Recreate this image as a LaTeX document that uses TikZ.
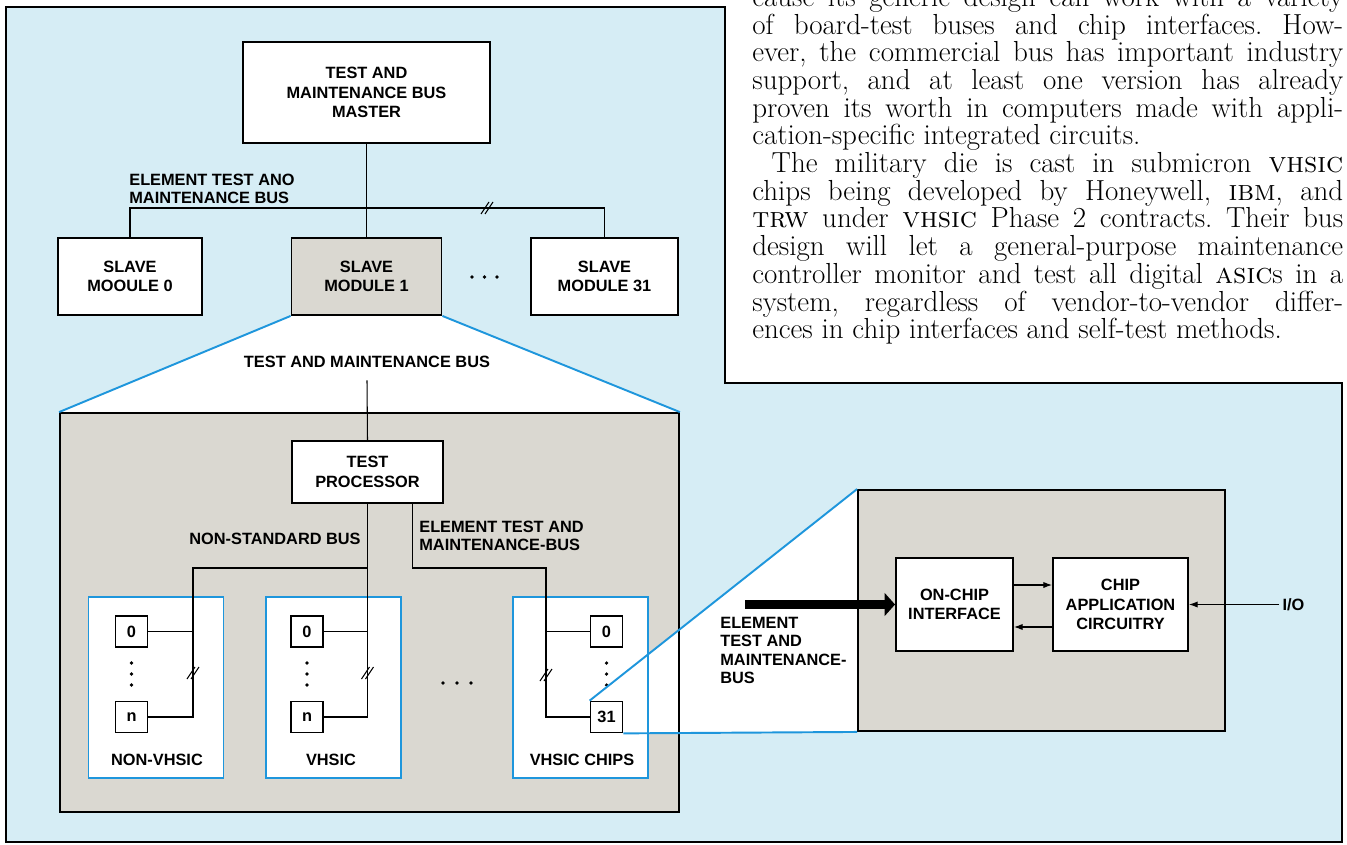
\documentclass[tikz,border=0pt]{standalone}
\usepackage{fontspec}
\newfontfamily\lblfont{Liberation Sans}
\usepackage{xcolor}
\usepackage{tikz}
\usetikzlibrary{arrows.meta,positioning,backgrounds}

\definecolor{paleblue}{HTML}{D6EDF5}
\definecolor{boardgray}{HTML}{DAD8D1}
\definecolor{zoomblue}{HTML}{1E96DC}

\begin{document}
\begin{tikzpicture}[
  x=0.02cm,y=-0.02cm,
  lbl/.style={font=\lblfont\bfseries\fontsize{9.3}{10.3}\selectfont,align=left,inner sep=0pt},
  box/.style={draw,line width=1.1pt,fill=white,align=center,font=\lblfont\bfseries\fontsize{9.3}{11}\selectfont},
  chip/.style={draw,line width=1pt,fill=white,minimum width=0.64cm,minimum height=0.62cm,inner sep=0pt,font=\lblfont\bfseries\fontsize{9.3}{11}\selectfont},
  group/.style={draw=zoomblue,line width=1.1pt,fill=white,minimum width=2.7cm,minimum height=3.62cm},
  board/.style={draw,line width=1.1pt},
  bus/.style={line width=0.6pt},
  zoom/.style={zoomblue,line width=1.1pt},
  tip/.style={-{Latex[length=5pt,width=3.6pt]}},
  brk/.pic={\draw[line width=0.6pt] (-6,6) -- (2,-6) (-2,6) -- (6,-6);}
]
\useasboundingbox (0,0) rectangle (1347,845);

% frame round the figure
\draw[line width=1.4pt] (6,7) -- (725,7) -- (725,383) -- (1342,383) -- (1342,842) -- (6,842) -- cycle;

% column text
\node[anchor=north west,inner sep=0pt,text width=11.82cm,align=justify,font=\fontsize{16.5}{15.76}\selectfont] (column) at (752,-14) {%
\parindent=0pt\parskip=0pt\tolerance=9999\hyphenpenalty=10000\exhyphenpenalty=10000\frenchspacing
cause its generic design can work with a variety\linebreak
of board-test buses and chip interfaces. How-\linebreak
ever, the commercial bus has important industry\linebreak
support, and at least one version has already\linebreak
proven its worth in computers made with appli-\linebreak
cation-specific integrated circuits.\par
\hspace*{11pt}The military die is cast in submicron \textsc{vhsic}\linebreak
chips being developed by Honeywell, \textsc{ibm}, and\linebreak
\textsc{trw} under \textsc{vhsic} Phase 2 contracts. Their bus\linebreak
design will let a general-purpose maintenance\linebreak
controller monitor and test all digital \textsc{asic}s in a\linebreak
system, regardless of vendor-to-vendor differ-\linebreak
ences in chip interfaces and self-test methods.};

% system level
\node[box,minimum width=4.94cm,minimum height=2.02cm] (master) at (366.5,92.5) {TEST AND\\MAINTENANCE BUS\\MASTER};
\node[box,minimum width=2.88cm,minimum height=1.54cm] (slave0) at (130,276.5) {SLAVE\\MOOULE 0};
\node[box,fill=boardgray,minimum width=3cm,minimum height=1.54cm] (slave1) at (366.5,276.5) {SLAVE\\MODULE 1};
\node[box,minimum width=2.94cm,minimum height=1.54cm] (slave31) at (604.5,276.5) {SLAVE\\MODULE 31};
\node[lbl,anchor=west] (etmlbl) at (129,188.5) {ELEMENT TEST ANO\\MAINTENANCE BUS};

\coordinate (etmbus) at (366.5,208);
\draw[bus] (master) -- (slave1);
\draw[bus] (slave0.north) |- (etmbus) -| (slave31.north);
\pic at (487,208) {brk};
\foreach \dx in {472,484.5,497} \fill (\dx,277) circle[radius=1.1pt];

% slave module 1
\node[board,minimum width=12.38cm,minimum height=7.98cm] (board) at (369.5,612.5) {};
\draw[zoom] (slave1.south west) -- (board.north west);
\draw[zoom] (slave1.south east) -- (board.north east);
\node[lbl] (tmlbl) at (367,362) {TEST AND MAINTENANCE BUS};
\node[box,minimum width=3.02cm,minimum height=1.24cm] (tproc) at (367.5,472) {TEST\\PROCESSOR};
\draw[bus] ([yshift=-7pt]tmlbl.south) -- (tproc.north);

\node[group] (nvbox) at (156,687.5) {};
\node[group] (vbox) at (333.5,687.5) {};
\node[group] (vcbox) at (580.5,687.5) {};
\node[lbl] (nvname) at (157,760) {NON-VHSIC};
\node[lbl] (vname) at (331,760) {VHSIC};
\node[lbl] (vcname) at (582,760) {VHSIC CHIPS};

\node[chip] (nv0) at (131.5,631.5) {0};
\node[chip] (nvn) at (131.5,717) {n};
\node[chip] (v0) at (307,631.5) {0};
\node[chip] (vn) at (307,717) {n};
\node[chip] (vc0) at (606.5,631.5) {0};
\node[chip] (vc31) at (606.5,717) {31};
\foreach \dx in {131.5,307,606.5}
  \foreach \dy in {663,674,685} \fill (\dx,\dy) circle[radius=1pt];
\foreach \dx in {443,457,471} \fill (\dx,683) circle[radius=1.1pt];

\coordinate (nsbus) at (193,568);
\coordinate (etm) at ([xshift=0.9cm]tproc.south);
\coordinate (etbus) at (546,568);
\draw[bus] (tproc.south) |- (vn.east);
\draw[bus] (v0.east) -- (v0.east -| tproc.south);
\draw[bus] (nsbus -| tproc.south) -- (nsbus) |- (nvn.east);
\draw[bus] (nv0.east) -- (nv0.east -| nsbus);
\draw[bus] (etm) |- (etbus) |- (vc31.west);
\draw[bus] (vc0.west) -- (vc0.west -| etbus);
\pic at (193,673) {brk};
\pic at (367.5,673) {brk};
\pic at (546,675) {brk};
\node[lbl,anchor=east] (nslbl) at (361,539) {NON-STANDARD BUS};
\node[lbl,anchor=west] (etlbl) at (419,536) {ELEMENT TEST AND\\MAINTENANCE-BUS};

% VHSIC chip
\node[board,fill=boardgray,minimum width=7.34cm,minimum height=4.82cm] (chipbox) at (1041.5,610.5) {};
\draw[zoom] (vc31.north west) -- (chipbox.north west);
\draw[zoom] (vc31.south east) -- (chipbox.south west);
\node[box,minimum width=2.34cm,minimum height=1.86cm] (ifc) at (954.5,604.5) {ON-CHIP\\INTERFACE};
\node[box,minimum width=2.7cm,minimum height=1.86cm] (app) at (1120.5,604.5) {CHIP\\APPLICATION\\CIRCUITRY};
\draw[bus,tip] ([yshift=0.39cm]ifc.east) -- ([yshift=0.39cm]app.west);
\draw[bus,tip] ([yshift=-0.45cm]app.west) -- ([yshift=-0.45cm]ifc.east);
\coordinate (etin) at (745,604.5);
\draw[line width=5pt,-{Triangle[length=6pt,width=13pt]}] (etin) -- (ifc.west);
\node[lbl,anchor=west] (etinlbl) at (720,650.5) {ELEMENT\\TEST AND\\MAINTENANCE-\\BUS};
\node[lbl,anchor=west,outer sep=2pt] (iolbl) at (1279,604.5) {I/O};
\draw[bus,tip] (iolbl) -- (app);

\begin{scope}[on background layer]
  \fill[paleblue] (6,7) -- (725,7) -- (725,383) -- (1342,383) -- (1342,842) -- (6,842) -- cycle;
  \fill[white] (slave1.south west) -- (slave1.south east) -- (board.north east) -- (board.north west) -- cycle;
  \fill[boardgray] (board.south west) rectangle (board.north east);
  \fill[white] (vc31.north west) -- (chipbox.north west) -- (chipbox.south west) -- (vc31.south east) -- cycle;
\end{scope}
\end{tikzpicture}
\end{document}
